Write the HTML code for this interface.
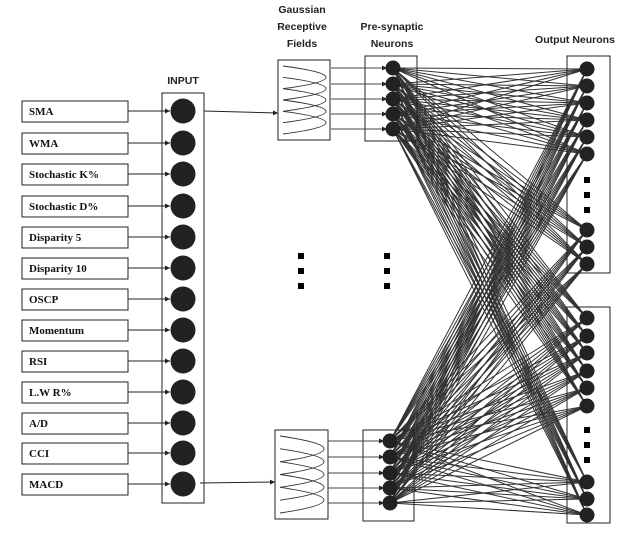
<!DOCTYPE html>
<html><head><meta charset="utf-8"><style>
body{margin:0;background:#fff;}
svg{display:block;}
.h{font-family:"Liberation Sans",sans-serif;font-weight:bold;font-size:10.5px;fill:#222;text-anchor:middle;}
.l{font-family:"Liberation Serif",serif;font-weight:bold;font-size:11px;fill:#111;}
</style></head><body>
<svg id="s" width="634" height="536" viewBox="0 0 634 536" xmlns="http://www.w3.org/2000/svg">
<defs><marker id="ar" markerWidth="6" markerHeight="6" refX="5" refY="3" orient="auto"><path d="M0,0.5 L5,3 L0,5.5z" fill="#222"/></marker></defs>
<text class="h" x="183" y="84">INPUT</text>
<text class="h" x="302" y="13"><tspan x="302">Gaussian</tspan><tspan x="302" dy="17">Receptive</tspan><tspan x="302" dy="17">Fields</tspan></text>
<text class="h" x="392" y="30"><tspan x="392">Pre-synaptic</tspan><tspan x="392" dy="17">Neurons</tspan></text>
<text class="h" x="575" y="43">Output Neurons</text>
<rect x="162" y="93" width="42" height="410" fill="none" stroke="#222"/>
<g id="links" stroke="#333" stroke-width="1"></g>
<g id="g"></g>
</svg>
<script>
const inputLabels=["SMA","WMA","Stochastic K%","Stochastic D%","Disparity 5","Disparity 10","OSCP","Momentum","RSI","L.W R%","A/D","CCI","MACD"];
const inputY=[111,143,174,206,237,268,299,330,361,392,423,453,484];
const preTopY=[68,84,99,114,129];
const preBotY=[441,457,473,488,503];
const outTopY=[69,86,103,120,137,154,230,247,264];
const outBotY=[318,336,353,371,388,406,482,499,515];
const NS="http://www.w3.org/2000/svg";
const s=document.getElementById('s'),g=document.getElementById('g'),L=document.getElementById('links');
function mk(t,a,p){const e=document.createElementNS(NS,t);for(const k in a)e.setAttribute(k,a[k]);(p||g).appendChild(e);return e;}
inputLabels.forEach((t,i)=>{const y=inputY[i];
 const r=mk('rect',{x:22,y:y-10,width:106,height:21,fill:'#fff',stroke:'#222'});
 
 
 const tx=mk('text',{x:29,y:y+4,class:'l'});tx.textContent=t;
 
 
 const ln=mk('line',{x1:128,y1:y,x2:170,y2:y,stroke:'#222','marker-end':'url(#ar)'});
 
 
 const c=mk('circle',{cx:183,cy:y,r:12.5,fill:'#222'});
 
 
});
function gauss(x,y,w,h){
 const b=mk('rect',{x:x,y:y,width:w,height:h,fill:'#fff',stroke:'#222'});
 
 
 const n=5,step=(h-12)/(n+1);
 for(let i=0;i<n;i++){const y0=y+6+i*step,y1=y0+2*step,ym=(y0+y1)/2;
  const p=mk('path',{d:`M${x+5},${y0} Q${x+w-4},${y0+step*0.5} ${x+w-4},${ym} Q${x+w-4},${y1-step*0.5} ${x+5},${y1}`,fill:'none',stroke:'#333','stroke-width':0.9});
  
  
 }
}
gauss(278,60,52,80);gauss(275,430,53,89);
[[204,111,278,113],[200,483,275,482]].forEach(a=>{const l=mk('line',{x1:a[0],y1:a[1],x2:a[2],y2:a[3],stroke:'#222','marker-end':'url(#ar)'});
 
 });
function pre(bx,by,bw,bh,cx,ys,gx){
 const b=mk('rect',{x:bx,y:by,width:bw,height:bh,fill:'none',stroke:'#222'});
 
 
 ys.forEach(y=>{const l=mk('line',{x1:gx,y1:y,x2:cx-6,y2:y,stroke:'#444','marker-end':'url(#ar)'});
  
  
  const c=mk('circle',{cx:cx,cy:y,r:7.5,fill:'#222'});
  
  });
}
pre(365,56,52,85,393,preTopY,331);pre(363,430,51,91,390,preBotY,328);
[[567,56,43,217],[567,307,43,216]].forEach(a=>{const b=mk('rect',{x:a[0],y:a[1],width:a[2],height:a[3],fill:'none',stroke:'#222'});
 
 });
const outs=outTopY.concat(outBotY);
preTopY.map(y=>[393,y]).concat(preBotY.map(y=>[390,y])).forEach(p=>{
 outs.forEach(y=>{const l=mk('line',{x1:p[0],y1:p[1],x2:587,y2:y},L);
  
  });
});
outs.forEach(y=>{const c=mk('circle',{cx:587,cy:y,r:7.5,fill:'#222'});
 
 });
[[301,256],[301,271],[301,286],[387,256],[387,271],[387,286],[587,180],[587,195],[587,210],[587,430],[587,445],[587,460]].forEach(d=>{
 const r=mk('rect',{x:d[0]-3,y:d[1]-3,width:6,height:6,fill:'#000'});
 
 });
</script>
</body></html>
